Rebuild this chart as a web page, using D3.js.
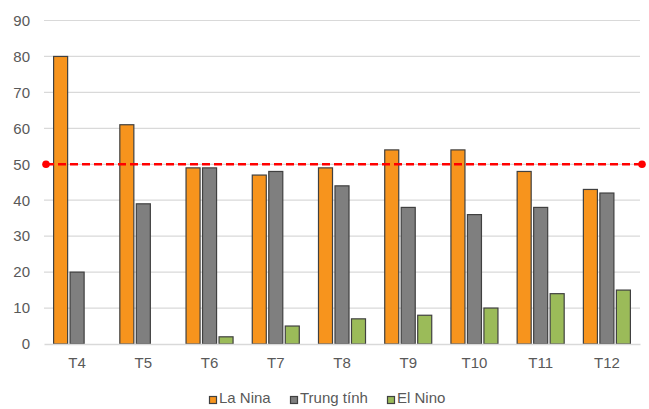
<!DOCTYPE html>
<html>
<head>
<meta charset="utf-8">
<script src="https://cdn.jsdelivr.net/npm/d3@7"></script>
<style>
  html, body { margin: 0; padding: 0; background: #fff; }
  svg { display: block; font-family: "Liberation Sans", Arial, sans-serif; }
</style>
</head>
<body>
<svg id="chart" width="649" height="409"></svg>
<script>
const months = ["T4", "T5", "T6", "T7", "T8", "T9", "T10", "T11", "T12"];
const seriesNames = ["La Nina", "Trung tính", "El Nino"];
const laNina = [80, 61, 49, 47, 49, 54, 54, 48, 43];
const trungTinh = [20, 39, 49, 48, 44, 38, 36, 38, 42];
const elNino = [0, 0, 2, 5, 7, 8, 10, 14, 15];
const yTicks = [0, 10, 20, 30, 40, 50, 60, 70, 80, 90];
const threshold = 50;

const colors = ["#F7941D", "#7F7F7F", "#9BBB59"];
const seriesValues = [laNina, trungTinh, elNino];

const svg = d3.select("#chart");
const margin = { left: 44, right: 9, top: 20.5, bottom: 65 };
const W = 649, H = 409;
const FONT = "'Liberation Sans', Arial, sans-serif";

const x = d3.scaleBand().domain(months).range([margin.left, W - margin.right]).paddingInner(0.29).paddingOuter(0.145);
const xs = d3.scaleBand().domain(d3.range(3)).range([0, x.bandwidth()]).paddingInner(0.15);
const y = d3.scaleLinear().domain([0, 90]).range([H - margin.bottom, margin.top]);

// horizontal gridlines
svg.append("g")
  .selectAll("line")
  .data(yTicks.filter(d => d > 0))
  .join("line")
  .attr("x1", margin.left).attr("x2", W - margin.right)
  .attr("y1", d => y(d)).attr("y2", d => y(d))
  .attr("stroke", "#D9D9D9").attr("stroke-width", 1.2);

// y axis labels
const yAxis = d3.axisLeft(y).tickValues(yTicks).tickSize(0).tickPadding(14);
const gy = svg.append("g").attr("transform", `translate(${margin.left},0)`).call(yAxis);
gy.select(".domain").remove();
gy.selectAll("text").attr("fill", "#595959").style("font-size", "15px").style("font-family", FONT);

// bars
const rows = months.map((m, i) => ({ m, vals: seriesValues.map(s => s[i]) }));
const groups = svg.append("g").selectAll("g")
  .data(rows).join("g")
  .attr("transform", d => `translate(${x(d.m)},0)`);
groups.selectAll("rect")
  .data(d => d.vals.map((v, k) => ({ v, k })).filter(o => o.v > 0))
  .join("rect")
  .attr("x", d => xs(d.k))
  .attr("width", xs.bandwidth())
  .attr("y", d => y(d.v))
  .attr("height", d => y(0) - y(d.v))
  .attr("fill", d => colors[d.k])
  .attr("stroke", "#404040").attr("stroke-width", 1.2);

// x axis baseline and labels
const xAxis = d3.axisBottom(x).tickSize(0).tickPadding(13);
const gx = svg.append("g").attr("transform", `translate(0,${y(0)})`).call(xAxis);
gx.select(".domain").attr("stroke", "#D9D9D9").attr("stroke-width", 1.5);
gx.selectAll("text").attr("fill", "#595959").style("font-size", "15px").style("font-family", FONT);

// threshold line at 50
const x0 = 46, x1 = 642;
svg.append("line")
  .attr("x1", x0).attr("x2", x1)
  .attr("y1", y(threshold)).attr("y2", y(threshold))
  .attr("stroke", "#FF0000").attr("stroke-width", 2.5)
  .attr("stroke-dasharray", "8,4");
svg.selectAll("circle.end")
  .data([x0, x1]).join("circle")
  .attr("class", "end")
  .attr("cx", d => d).attr("cy", y(threshold)).attr("r", 3.8)
  .attr("fill", "#FF0000");

// legend
const legendX = [209, 290, 387];
const lg = svg.append("g").selectAll("g")
  .data(seriesNames).join("g")
  .attr("transform", (d, i) => `translate(${legendX[i]},403)`);
lg.append("rect")
  .attr("x", 0.5).attr("y", -6.5).attr("width", 7).attr("height", 7)
  .attr("fill", (d, i) => colors[i]).attr("stroke", "#404040").attr("stroke-width", 1.2);
lg.append("text")
  .attr("x", 10).attr("y", 0)
  .attr("fill", "#595959").style("font-size", "15px").style("font-family", FONT)
  .text(d => d);
</script>
</body>
</html>
